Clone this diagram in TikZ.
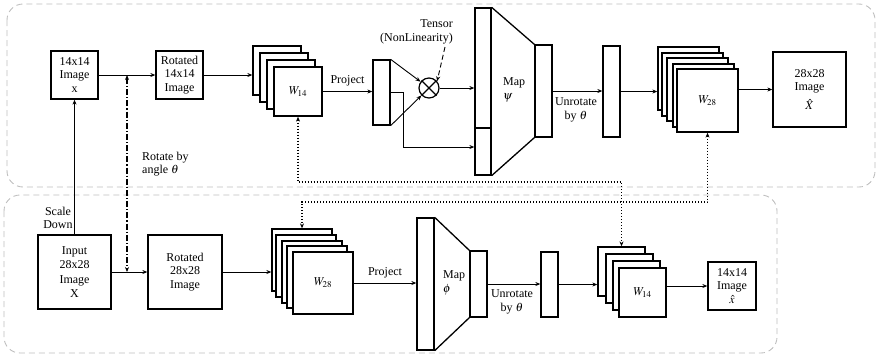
\documentclass[tikz,border=0pt]{standalone}
\usepackage{mathptmx}
\usepackage{fontspec}
\setmainfont{Liberation Serif}
\usetikzlibrary{arrows.meta,calc}
\begin{document}
\begin{tikzpicture}[x=1pt,y=-1pt,
 every node/.style={font=\fontsize{12}{13.5}\selectfont},
 box/.style={draw,line width=1.3pt,fill=white,inner sep=0pt,align=center},
 lab/.style={inner sep=0pt,align=center},
 arr/.style={-{Stealth[length=5pt,width=4pt]},line width=0.9pt},
 darr/.style={{Stealth[length=5pt,width=4pt]}-{Stealth[length=5pt,width=4pt]},line width=1.1pt},
 frame/.style={draw=gray!50,line width=0.9pt,rounded corners=16pt,dash pattern=on 6pt off 4pt}]
\useasboundingbox (0,0) rectangle (883,357);
% frames
\draw[frame] (7,4) rectangle (875,187);
\draw[frame] (4,195) rectangle (777,353);
% ---------- top row ----------
\node[box,minimum width=47pt,minimum height=48pt] (x1) at (74.5,75) {14x14\\Image\\x};
\node[box,minimum width=47pt,minimum height=48pt] (r1) at (179.5,75) {Rotated\\14x14\\Image};
\node[box,minimum width=48pt,minimum height=49pt] (s1a) at (277,70.5) {};
\node[box,minimum width=48pt,minimum height=49pt] (s1b) at (284,77.5) {};
\node[box,minimum width=48pt,minimum height=49pt] (s1c) at (291,84.5) {};
\node[box,minimum width=48pt,minimum height=49pt] (s1d) at (298,91.5) {$W_{14}$};
\node[box,minimum width=17pt,minimum height=65pt] (p1) at (381.5,92.5) {};
\node[draw,circle,line width=1.2pt,minimum size=20pt,inner sep=0pt] (ot) at (429,88) {};
\draw[line width=1.2pt] (ot.north east) -- (ot.south west) (ot.north west) -- (ot.south east);
\node[lab,align=right,anchor=south east] (tens) at (453,44) {Tensor\\(NonLinearity)};
\node[box,minimum width=16pt,minimum height=120pt] (psiA) at (483,68) {};
\node[box,minimum width=16pt,minimum height=47pt] (psiB) at (483,151.5) {};
\node[box,minimum width=17pt,minimum height=92pt] (psiR) at (543.5,91) {};
\draw[line width=1.3pt] (psiA.north east) -- (psiR.north west) (psiB.south east) -- (psiR.south west);
\node[lab,align=left,anchor=west] (mpsi) at (503,90) {Map\\$\psi$};
\node[box,minimum width=17pt,minimum height=91pt] (ub1) at (611.5,91.5) {};
\node[lab] (ul1) at (576,110) {Unrotate\\by $\theta$};
\node[box,minimum width=61pt,minimum height=63pt] (s2a) at (688.5,78.5) {};
\node[box,minimum width=61pt,minimum height=63pt] (s2b) at (692.5,84.5) {};
\node[box,minimum width=61pt,minimum height=63pt] (s2c) at (697.5,89.5) {};
\node[box,minimum width=61pt,minimum height=63pt] (s2d) at (703.5,95.5) {};
\node[box,minimum width=61pt,minimum height=63pt] (s2e) at (707.5,100.5) {$W_{28}$};
\node[box,minimum width=73pt,minimum height=75pt] (Xh) at (809.5,89.5) {28x28\\Image\\[5pt]$\hat{X}$};
% top arrows
\draw[arr] (x1) -- (r1);
\draw[arr] (r1.east) -- (r1.east -| s1a.west);
\draw[arr] (s1d.east) -- (s1d.east -| p1.west) node[lab,midway,above=5pt] (pj1) {Project};
\draw[arr] (p1.north east) -- (ot);
\draw[arr] (p1.south east) -- (ot);
\draw[arr] (p1.east) -- ++(13,0) |- ([yshift=4.5pt]psiB.west);
\draw[arr,dash pattern=on 5pt off 3pt] ([xshift=-8pt,yshift=-3pt]tens.south east) -- (ot.40);
\draw[arr] (ot.east) -- (ot.east -| psiA.west);
\draw[arr] (psiR.east) -- (psiR.east -| ub1.west);
\draw[arr] (ub1.east) -- (ub1.east -| s2a.west);
\draw[arr] (s2e.east |- Xh.west) -- (Xh.west);
% ---------- bottom row ----------
\node[box,minimum width=73pt,minimum height=74pt,font=\fontsize{12}{14.5}\selectfont] (in) at (74.5,272) {Input\\28x28\\Image\\X};
\node[box,minimum width=74pt,minimum height=74pt] (r2) at (185,272) {Rotated\\28x28\\Image};
\node[box,minimum width=60pt,minimum height=62pt] (b28a) at (302,260) {};
\node[box,minimum width=60pt,minimum height=62pt] (b28b) at (306,266) {};
\node[box,minimum width=60pt,minimum height=62pt] (b28c) at (312,272) {};
\node[box,minimum width=60pt,minimum height=62pt] (b28d) at (317,277) {};
\node[box,minimum width=60pt,minimum height=62pt] (b28e) at (323,283) {$W_{28}$};
\node[box,minimum width=17pt,minimum height=132pt] (phiL) at (425.5,284) {};
\node[box,minimum width=17pt,minimum height=66pt] (phiR) at (478.5,284) {};
\draw[line width=1.3pt] (phiL.north east) -- (phiR.north west) (phiL.south east) -- (phiR.south west);
\node[lab,align=left,anchor=west] (mphi) at (443,283) {Map\\$\phi$};
\node[box,minimum width=17pt,minimum height=65pt] (ub2) at (549.5,284.5) {};
\node[lab] (ul2) at (512,302) {Unrotate\\by $\theta$};
\node[box,minimum width=47pt,minimum height=49pt] (b14a) at (621.5,271.5) {};
\node[box,minimum width=47pt,minimum height=49pt] (b14b) at (629.5,278.5) {};
\node[box,minimum width=47pt,minimum height=49pt] (b14c) at (636.5,285.5) {};
\node[box,minimum width=47pt,minimum height=49pt] (b14d) at (642.5,292.5) {$W_{14}$};
\node[box,minimum width=48pt,minimum height=48pt] (xh) at (732,286) {14x14\\Image\\$\hat{x}$};
% bottom arrows
\draw[arr] (in.north) -- (x1.south);
\node[lab] (sd) at (58,218) {Scale\\Down};
\draw[arr] (in) -- (r2);
\draw[arr] (r2.east) -- (r2.east -| b28a.west);
\draw[arr] (b28e.east) -- (b28e.east -| phiL.west) node[lab,midway,above=5pt] (pj2) {Project};
\draw[arr] (phiR.east) -- (phiR.east -| ub2.west);
\draw[arr] (ub2.east) -- (ub2.east -| b14a.west);
\draw[arr] (b14d.east |- xh.west) -- (xh.west);
% rotate (dash-dot)
\coordinate (rt) at ($(x1.east)!0.5!(r1.west)$);
\draw[darr,dash pattern=on 6pt off 2pt on 1.2pt off 2pt] (rt) -- (rt |- in.east);
\node[lab,align=left,anchor=west] (rot) at (142,164) {Rotate by\\angle $\theta$};
% dotted links
\coordinate (yA) at (0,182);
\coordinate (yB) at (0,202);
\draw[darr,dash pattern=on 1pt off 2pt] (s1d.south) -- (s1d.south |- yA) -| (b14a.north);
\draw[darr,dash pattern=on 1pt off 2pt] (s2e.south) -- (s2e.south |- yB) -| (b28a.north);
\end{tikzpicture}
\end{document}
